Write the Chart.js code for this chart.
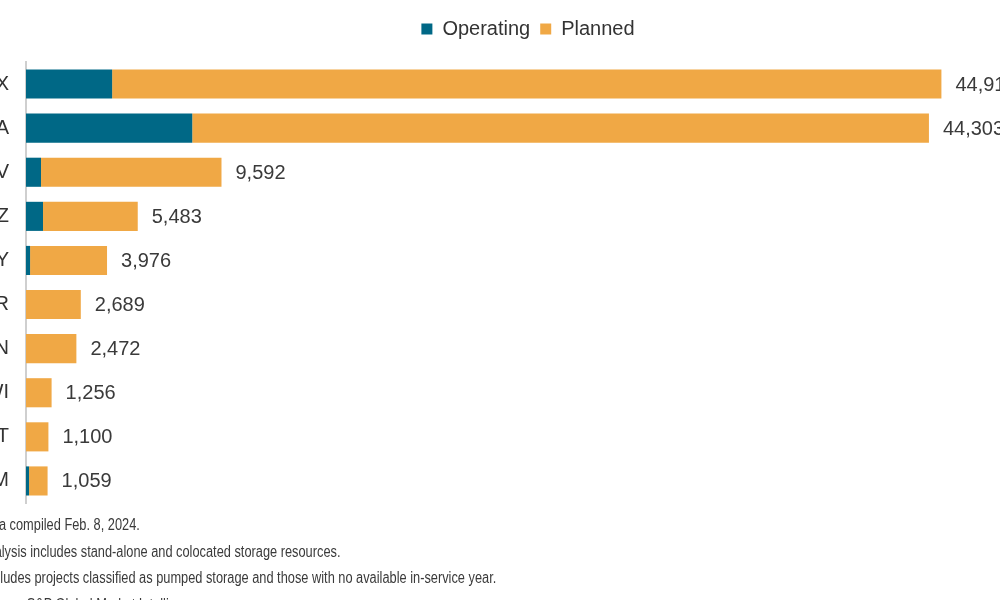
<!DOCTYPE html>
<html lang="en">
<head>
  <meta charset="UTF-8" />
  <title>Battery storage capacity by state</title>
  <script src="https://cdn.jsdelivr.net/npm/chart.js@4.4.1/dist/chart.umd.min.js"></script>
  <style>
    html, body {
      margin: 0;
      padding: 0;
      background: #fff;
      overflow: hidden;
    }
    .page {
      position: relative;
      width: 1000px;
      height: 600px;
      overflow: hidden;
    }
    .chart-box {
      position: absolute;
      left: -40px;
      top: 0;
      width: 1136px;
      height: 532px;
    }
    .notes {
      position: absolute;
      left: -21px;
      top: 512px;
      font-family: "Liberation Sans", Arial, sans-serif;
      font-size: 16px;
      line-height: 26.7px;
      color: #3a3a3a;
      white-space: nowrap;
      transform: scaleX(0.8);
      transform-origin: left top;
    }
  </style>
</head>
<body>
  <div class="page">
    <div class="chart-box">
      <canvas id="storage-chart"></canvas>
    </div>
    <div class="notes">
      <div>Data compiled Feb. 8, 2024.</div>
      <div>Analysis includes stand-alone and colocated storage resources.</div>
      <div>Excludes projects classified as pumped storage and those with no available in-service year.</div>
      <div>Source: S&amp;P Global Market Intelligence.</div>
    </div>
  </div>

  <script>
    // values (MW)
    var states = ["TX", "CA", "NV", "AZ", "NY", "OR", "IN", "WI", "UT", "NM"];
    var operating = [4226, 8157, 737, 835, 200, 0, 0, 0, 0, 150];
    var planned = [40689, 36146, 8855, 4648, 3776, 2689, 2472, 1256, 1100, 909];

    var totals = states.map(function (s, i) {
      return operating[i] + planned[i];
    });

    // total label at the end of every bar
    var totalLabels = {
      id: "totalLabels",
      afterDatasetsDraw: function (chart) {
        var ctx = chart.ctx;
        var meta = chart.getDatasetMeta(1);
        ctx.save();
        ctx.font = '20px "Liberation Sans", Arial, sans-serif';
        ctx.fillStyle = "#3a3a3a";
        ctx.textAlign = "left";
        ctx.textBaseline = "middle";
        meta.data.forEach(function (bar, i) {
          ctx.fillText(totals[i].toLocaleString("en-US"), bar.x + 14, bar.y + 1);
        });
        ctx.restore();
      }
    };

    var ctx = document.getElementById("storage-chart").getContext("2d");
    new Chart(ctx, {
      type: "bar",
      data: {
        labels: states,
        datasets: [
          {
            label: "Operating",
            data: operating,
            backgroundColor: "#006886",
            barPercentage: 0.66,
            categoryPercentage: 1
          },
          {
            label: "Planned",
            data: planned,
            backgroundColor: "#f0a845",
            barPercentage: 0.66,
            categoryPercentage: 1
          }
        ]
      },
      options: {
        indexAxis: "y",
        responsive: true,
        maintainAspectRatio: false,
        animation: false,
        layout: {
          padding: { top: 9, bottom: 9, left: 0, right: 0 }
        },
        plugins: {
          legend: {
            position: "top",
            labels: {
              boxWidth: 11,
              boxHeight: 11,
              color: "#333",
              font: { family: '"Liberation Sans", Arial, sans-serif', size: 20 }
            }
          },
          tooltip: { enabled: false }
        },
        scales: {
          x: {
            stacked: true,
            position: "top",
            min: 0,
            max: 52500,
            ticks: { display: false },
            grid: { display: false },
            border: { display: false },
            afterFit: function (scale) {
              scale.height = 13;
            }
          },
          y: {
            stacked: true,
            ticks: {
              color: "#333",
              padding: 17,
              font: { family: '"Liberation Sans", Arial, sans-serif', size: 20 }
            },
            grid: { display: false, drawTicks: false },
            border: { display: true, color: "#cfcfcf", width: 2 },
            afterFit: function (scale) {
              scale.width = 66;
            }
          }
        }
      },
      plugins: [totalLabels]
    });
  </script>
</body>
</html>
